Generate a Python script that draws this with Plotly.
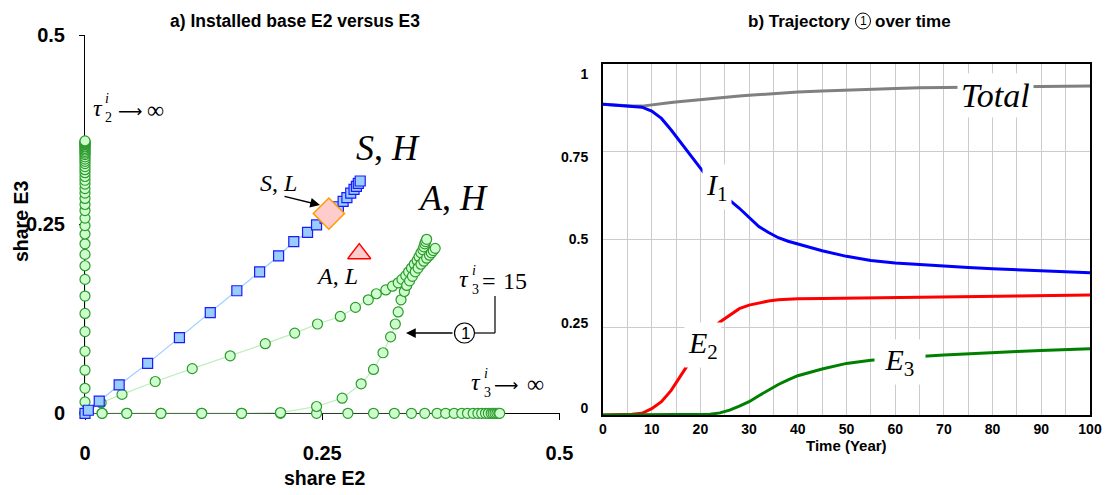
import plotly.graph_objects as go

W, H = 1109, 495

# ---------------- Panel a) data ----------------
# tau2 -> infinity : stays on E2 = 0
tau2inf_e2 = [0] * 43
tau2inf_e3 = [0, 0.015, 0.033, 0.057, 0.082, 0.108, 0.132, 0.155, 0.177, 0.195, 0.210, 0.224,
              0.237, 0.248, 0.258, 0.268, 0.276, 0.284, 0.291, 0.297, 0.303, 0.308, 0.313,
              0.318, 0.322, 0.326, 0.330, 0.333, 0.336, 0.339, 0.342, 0.344, 0.346, 0.348,
              0.350, 0.352, 0.353, 0.355, 0.356, 0.357, 0.358, 0.359, 0.360]

# tau3 -> infinity : stays on E3 = 0
tau3inf_e2 = [0, 0.018, 0.044, 0.080, 0.123, 0.165, 0.206, 0.244, 0.277, 0.304, 0.326, 0.344,
              0.358, 0.371, 0.380, 0.389, 0.397, 0.403, 0.409, 0.414, 0.418, 0.422, 0.425,
              0.428, 0.430, 0.432, 0.434, 0.436, 0.437]
tau3inf_e3 = [0] * 29

# tau3 = 15
tau15_e2 = [0, 0.017, 0.039, 0.074, 0.113, 0.153, 0.190, 0.221, 0.245, 0.269, 0.285, 0.2985,
            0.307, 0.317, 0.324, 0.330, 0.334, 0.338, 0.341, 0.344, 0.347, 0.350, 0.352,
            0.354, 0.356, 0.357, 0.358, 0.359, 0.360]
tau15_e3 = [0, 0.014, 0.025, 0.042, 0.059, 0.076, 0.092, 0.106, 0.118, 0.128, 0.140, 0.150,
            0.158, 0.163, 0.168, 0.1725, 0.177, 0.182, 0.187, 0.192, 0.197, 0.202, 0.207,
            0.212, 0.216, 0.220, 0.224, 0.227, 0.230]

# trajectory (1)
traj1_e2 = [0, 0.018, 0.044, 0.080, 0.123, 0.165, 0.206, 0.244, 0.271, 0.291, 0.304, 0.314,
            0.322, 0.327, 0.330, 0.333, 0.3365, 0.339, 0.342, 0.345, 0.348, 0.351, 0.354,
            0.357, 0.360, 0.363, 0.365, 0.367, 0.369]
traj1_e3 = [0, 0, 0, 0, 0, 0, 0.001, 0.009, 0.020, 0.039, 0.058, 0.080,
            0.101, 0.118, 0.134, 0.150, 0.161, 0.169, 0.175, 0.181, 0.187, 0.192, 0.197,
            0.201, 0.205, 0.209, 0.212, 0.215, 0.218]

# S,H (squares)
sh_e2 = [0, 0.0035, 0.015, 0.036, 0.066, 0.0995, 0.132, 0.160, 0.184, 0.204, 0.220, 0.2345,
         0.244, 0.253, 0.260, 0.267, 0.272, 0.276, 0.280, 0.2835, 0.286, 0.288, 0.290]
sh_e3 = [0, 0.004, 0.016, 0.0375, 0.066, 0.100, 0.133, 0.162, 0.187, 0.208, 0.227, 0.239,
         0.249, 0.258, 0.266, 0.273, 0.280, 0.285, 0.291, 0.296, 0.300, 0.304, 0.307]

# single points
sl_e2, sl_e3 = [0.257], [0.264]
al_e2, al_e3 = [0.289], [0.211]

# ---------------- Panel b) data ----------------
years = [0, 2, 4, 6, 8, 10, 12, 14, 16, 18, 20, 22, 24, 26, 28, 30, 32, 34, 36, 38, 40,
         45, 50, 55, 60, 65, 70, 75, 80, 85, 90, 95, 100]
total = [0.885, 0.883, 0.881, 0.880, 0.880, 0.884, 0.887, 0.890, 0.893, 0.896, 0.899,
         0.902, 0.905, 0.907, 0.909, 0.911, 0.913, 0.915, 0.917, 0.918, 0.920,
         0.923, 0.926, 0.928, 0.930, 0.932, 0.933, 0.934, 0.935, 0.936, 0.936, 0.937, 0.937]
i1 = [0.885, 0.883, 0.881, 0.879, 0.877, 0.866, 0.845, 0.812, 0.776, 0.742, 0.705,
      0.667, 0.638, 0.612, 0.589, 0.562, 0.537, 0.520, 0.505, 0.495, 0.487,
      0.468, 0.452, 0.440, 0.433, 0.428, 0.424, 0.420, 0.417, 0.414, 0.411, 0.408, 0.405]
e2 = [0, 0, 0, 0.002, 0.005, 0.018, 0.038, 0.070, 0.113, 0.155, 0.200,
      0.240, 0.265, 0.285, 0.303, 0.313, 0.320, 0.325, 0.328, 0.330, 0.331,
      0.332, 0.333, 0.334, 0.334, 0.335, 0.336, 0.337, 0.338, 0.338, 0.339, 0.340, 0.342]
e3 = [0, 0, 0, 0, 0, 0, 0, 0, 0, 0, 0,
      0.002, 0.006, 0.014, 0.025, 0.038, 0.055, 0.072, 0.087, 0.100, 0.112,
      0.131, 0.147, 0.156, 0.162, 0.167, 0.171, 0.175, 0.178, 0.181, 0.184, 0.186, 0.189]

year_ticks = list(range(0, 101, 10))
year_labels = [str(v) for v in year_ticks]
share_grid = [0, 0.25, 0.5, 0.75, 1]
share_labels = ["0", "0.25", "0.5", "0.75", "1"]
# the original prints its y labels on a slightly compressed scale
share_label_pos = [0.02, 0.262, 0.5, 0.735, 0.972]

GREEN_EDGE = "#2e9a2e"
GREEN_FILL = "#ccffcc"
GREEN_LINE = "#bdeebd"

fig = go.Figure()

circle_marker = dict(symbol="circle", size=10, color=GREEN_FILL,
                     line=dict(color=GREEN_EDGE, width=1.2))

for xs, ys in [(tau2inf_e2, tau2inf_e3), (tau3inf_e2, tau3inf_e3),
               (tau15_e2, tau15_e3), (traj1_e2, traj1_e3)]:
    fig.add_trace(go.Scatter(x=xs, y=ys, mode="lines+markers", xaxis="x", yaxis="y",
                             line=dict(color=GREEN_LINE, width=1.2),
                             marker=circle_marker, cliponaxis=False,
                             showlegend=False, hoverinfo="skip"))

fig.add_trace(go.Scatter(x=sh_e2, y=sh_e3, mode="lines+markers", xaxis="x", yaxis="y",
                         line=dict(color="#99ccff", width=1.2),
                         marker=dict(symbol="square", size=10, color="#99ccff",
                                     line=dict(color="#1a1aff", width=1.2)),
                         cliponaxis=False, showlegend=False, hoverinfo="skip"))

fig.add_trace(go.Scatter(x=sl_e2, y=sl_e3, mode="markers", xaxis="x", yaxis="y",
                         marker=dict(symbol="diamond", size=24, color="#ffcccc",
                                     line=dict(color="#ff9900", width=1.5)),
                         showlegend=False, hoverinfo="skip"))
fig.add_trace(go.Scatter(x=al_e2, y=al_e3, mode="markers", xaxis="x", yaxis="y",
                         marker=dict(symbol="triangle-up", size=20, color="#ffcccc",
                                     line=dict(color="#ff0000", width=1.5)),
                         showlegend=False, hoverinfo="skip"))

# right panel
for ys, col in [(total, "#808080"), (i1, "#0000ff"), (e2, "#ff0000"), (e3, "#008000")]:
    fig.add_trace(go.Scatter(x=years, y=ys, mode="lines", xaxis="x2", yaxis="y2",
                             line=dict(color=col, width=3), showlegend=False,
                             hoverinfo="skip"))

BOLD = dict(family="Liberation Sans, Arial", color="black", weight="bold")
SERIF = "Liberation Serif, Times New Roman, serif"
SANS = "Liberation Sans, Arial"


def P(x, y):
    return dict(x=x / W, y=1 - y / H, xref="paper", yref="paper")


ann = []


def txt(x, y, text, size, family=SERIF, bold=False, **kw):
    f = dict(family=family, size=size, color="black")
    if bold:
        f["weight"] = "bold"
    d = dict(P(x, y), text=text, showarrow=False, font=f, xanchor="center", yanchor="middle")
    d.update(kw)
    ann.append(d)


# titles
txt(295, 21, "a) Installed base E2 versus E3", 17.5, family=SANS, bold=True)
txt(853, 21, "b) Trajectory", 17, family=SANS, bold=True, xanchor="right")
txt(863, 21, "1", 12, family=SANS)
txt(873, 21, "over time", 17, family=SANS, bold=True, xanchor="left")
# axis titles
txt(324, 478, "share E2", 19.5, family=SANS, bold=True)
txt(21, 222, "share E3", 19.5, family=SANS, bold=True, textangle=-90)
txt(846, 445, "Time (Year)", 15, family=SANS, bold=True)

# tau2 -> inf
txt(98, 108, "<i>\u03c4</i>", 24)
txt(107, 99, "<i>i</i>", 14)
txt(108, 118, "2", 14)
txt(130, 111, "\u27f6", 17, family="DejaVu Sans")
txt(155, 110, "\u221e", 24)
# tau3 = 15
txt(464, 279, "<i>\u03c4</i>", 24)
txt(474, 270, "<i>i</i>", 14)
txt(475, 289, "3", 14)
txt(489, 281, "=", 24)
txt(515, 281, "15", 24)
# tau3 -> inf
txt(476, 382, "<i>\u03c4</i>", 24)
txt(486, 373, "<i>i</i>", 14)
txt(487, 392, "3", 14)
txt(506, 385, "\u27f6", 17, family="DejaVu Sans")
txt(535, 384, "\u221e", 24)

txt(388, 148, "<i>S</i>, <i>H</i>", 36)
txt(453, 198, "<i>A</i>, <i>H</i>", 36)
txt(278, 183, "<i>S</i>, <i>L</i>", 24)
txt(337, 276, "<i>A</i>, <i>L</i>", 24)
txt(465, 333, "1", 17, family=SANS)

# arrows (tail offsets in pixels)
ann.append(dict(P(320, 205), ax=-37, ay=-9, axref="pixel", ayref="pixel",
                text="", showarrow=True, arrowhead=2, arrowsize=1.3, arrowwidth=1.5,
                arrowcolor="black"))
ann.append(dict(P(406, 333), ax=48, ay=0, axref="pixel", ayref="pixel",
                text="", showarrow=True, arrowhead=2, arrowsize=1.3, arrowwidth=1.5,
                arrowcolor="black"))


# right-panel labels with white boxes
def rlab(t, v, text, size):
    ann.append(dict(x=t, y=v, xref="x2", yref="y2", text=text, showarrow=False,
                    bgcolor="white", borderpad=3,
                    font=dict(family=SERIF, size=size, color="black")))


rlab(80.5, 0.91, "<i>Total</i>", 34)
rlab(23.5, 0.65, "<i>I</i><sub>1</sub>", 30)
rlab(20.5, 0.2, "<i>E</i><sub>2</sub>", 30)
rlab(61.0, 0.151, "\u00a0<i>E</i><sub>3</sub>\u00a0", 30)

shapes = [
    dict(type="circle", xref="paper", yref="paper",
         x0=454.5 / W, x1=474.5 / W, y0=1 - 343 / H, y1=1 - 323 / H,
         line=dict(color="black", width=1.2)),
    dict(type="line", xref="paper", yref="paper",
         x0=474.5 / W, x1=495 / W, y0=1 - 333 / H, y1=1 - 333 / H,
         line=dict(color="black", width=1.2)),
    dict(type="line", xref="paper", yref="paper",
         x0=495 / W, x1=495 / W, y0=1 - 333 / H, y1=1 - 296 / H,
         line=dict(color="black", width=1.2)),
    # circle of the title's (1)
    dict(type="circle", xref="paper", yref="paper",
         x0=855.5 / W, x1=870.5 / W, y0=1 - 29 / H, y1=1 - 13 / H,
         line=dict(color="black", width=1)),
]

fig.update_layout(
    width=W, height=H, margin=dict(l=0, r=0, t=0, b=0, autoexpand=False),
    paper_bgcolor="white", plot_bgcolor="white",
    showlegend=False,
    xaxis=dict(domain=[85 / W, 559.5 / W], range=[0, 0.5], anchor="y", automargin=False,
               showline=True, linecolor="black", linewidth=1, mirror=False,
               ticks="outside", ticklen=6, tickcolor="black",
               tickvals=[0, 0.25, 0.5], ticktext=["0", "0.25", "0.5"],
               tickfont=dict(size=20, **BOLD), ticklabelstandoff=16,
               showgrid=False, zeroline=False, layer="below traces"),
    yaxis=dict(domain=[1 - 413.3 / H, 1 - 35 / H], range=[0, 0.5], anchor="x", automargin=False,
               showline=True, linecolor="black", linewidth=1, mirror=False,
               ticks="outside", ticklen=5, tickcolor="black",
               tickvals=[0, 0.25, 0.5], ticktext=["0", "0.25", "0.5"],
               tickfont=dict(size=20, **BOLD), ticklabelstandoff=10,
               showgrid=False, zeroline=False, layer="below traces"),
    xaxis2=dict(domain=[603 / W, 1090 / W], range=[0, 100], anchor="y2", automargin=False,
                showline=True, linecolor="black", linewidth=2, mirror=True,
                ticks="", tickvals=year_ticks, ticktext=year_labels,
                tickfont=dict(size=14, **BOLD),
                showgrid=True, gridcolor="#cccccc", gridwidth=1, zeroline=False,
                minor=dict(dtick=5, tick0=0, showgrid=True, gridcolor="#cccccc",
                           gridwidth=1, ticks="")),
    yaxis2=dict(domain=[1 - 415 / H, 1 - 64 / H], range=[0, 1], anchor="x2", automargin=False,
                showline=True, linecolor="black", linewidth=2, mirror=True,
                ticks="", tickvals=share_label_pos, ticktext=share_labels,
                tickfont=dict(size=14, **BOLD), ticklabelstandoff=10,
                showgrid=False, zeroline=False,
                minor=dict(tickmode="array", tickvals=share_grid, showgrid=True,
                           gridcolor="#cccccc", gridwidth=1, ticks="")),
    annotations=ann,
    shapes=shapes,
)

fig.write_html("out.html", config={"displayModeBar": False},
               post_script="document.body.style.margin='0';document.body.style.padding='0';")
